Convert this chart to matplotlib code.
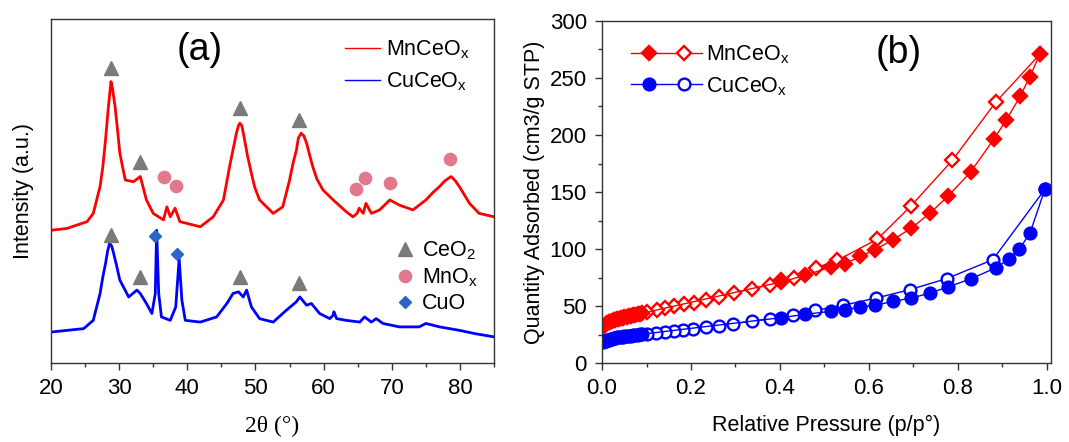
import numpy as np
import matplotlib
matplotlib.use('Agg')
import matplotlib.pyplot as plt
from matplotlib.lines import Line2D
from matplotlib.legend_handler import HandlerBase

plt.rcParams['font.family'] = ['Liberation Sans', 'DejaVu Sans']
plt.rcParams['mathtext.default'] = 'regular'

#%% XRD data (a.u.)
tt_mn = [20.0, 22.3, 25.3, 26.2, 27.2, 27.6, 28.0, 28.4, 28.8, 29.0, 29.4, 29.8, 30.1, 30.5, 30.9,
         32.1, 33.1, 34.0, 35.0, 36.5, 37.0, 37.5, 38.2, 38.9, 39.9, 41.9, 43.8, 45.3, 46.2,
         46.7, 47.2, 47.5, 47.7, 48.0, 48.4, 48.8, 49.4, 49.9, 50.6, 52.6, 54.0, 55.0, 55.5,
         56.0, 56.3, 56.7, 57.1, 57.5, 58.0, 58.4, 59.0, 59.9, 61.4, 63.3, 64.3, 64.9, 65.2,
         65.8, 66.2, 67.0, 68.2, 69.7, 71.1, 73.1, 75.0, 76.0, 77.0, 77.8, 78.7, 79.3, 79.9,
         81.4, 82.8, 85.0]
i_mn = [38.6, 39.1, 41.1, 43.5, 51.3, 57.0, 64.9, 74.0, 81.8, 80.0, 74.6, 67.0, 61.0, 57.0, 53.2,
        52.7, 54.2, 47.4, 43.5, 41.6, 45.4, 42.5, 45.0, 41.1, 40.6, 39.6, 42.5, 47.4, 57.1,
        62.0, 66.8, 69.0, 69.7, 69.0, 64.9, 60.5, 55.1, 51.0, 47.4, 43.5, 45.4, 53.2, 58.0,
        61.9, 65.5, 66.8, 66.0, 63.9, 60.0, 57.1, 53.5, 50.3, 47.4, 44.0, 42.5, 43.5, 45.0,
        43.5, 46.4, 43.5, 44.5, 47.4, 45.9, 44.5, 47.4, 49.5, 51.3, 53.0, 54.2, 53.0, 51.3,
        46.4, 43.5, 42.5]

tt_cu = [20.0, 24.8, 26.2, 27.2, 27.6, 28.0, 28.3, 28.6, 28.9, 29.2, 29.6, 30.1, 31.4, 32.6,
         33.1, 34.0, 34.8, 35.3, 35.5, 35.8, 36.2, 37.5, 38.3, 38.8, 39.2, 39.7, 41.9, 44.3,
         45.8, 46.7, 47.5, 48.2, 48.7, 49.4, 50.6, 52.6, 54.5, 56.0, 56.5, 57.5, 58.2, 59.4,
         60.9, 61.4, 61.5, 61.9, 63.3, 65.3, 66.0, 67.0, 67.7, 68.7, 71.1, 74.0, 75.0, 77.0,
         79.9, 82.3, 85.0]
i_cu = [9.0, 10.0, 12.4, 20.2, 25.0, 28.9, 32.5, 34.8, 34.0, 31.8, 28.5, 24.1, 19.2, 21.2,
        20.2, 17.3, 14.4, 20.2, 38.6, 20.2, 13.4, 12.4, 16.3, 30.4, 18.3, 12.4, 11.9, 13.4,
        17.3, 20.2, 20.7, 19.2, 21.2, 16.3, 12.9, 11.9, 15.3, 17.8, 19.2, 16.8, 17.3, 14.4,
        12.9, 13.9, 14.9, 12.9, 12.4, 11.9, 13.4, 11.9, 12.9, 11.5, 10.5, 10.5, 11.5, 10.5,
        9.5, 8.5, 7.6]

# phase markers
ceo2_tt = [28.8, 33.0, 47.7, 56.4, 28.8, 33.0, 47.7, 56.4]
ceo2_i  = [85.7, 58.3, 74.1, 70.5, 37.2, 24.9, 25.0, 23.3]
mnox_tt = [36.6, 38.4, 64.7, 66.0, 69.7, 78.6]
mnox_i  = [54.2, 51.5, 50.6, 53.7, 52.4, 59.2]
cuo_tt  = [35.3, 38.5]
cuo_i   = [37.0, 31.7]

#%% BET isotherms (p/p0, cm3/g STP)
mn_ads_p = [0.003, 0.006, 0.009, 0.012, 0.015, 0.018, 0.022, 0.026, 0.030, 0.034, 0.038, 0.042,
            0.046, 0.050, 0.055, 0.060, 0.065, 0.070, 0.075, 0.080, 0.085, 0.090,
            0.403, 0.457, 0.514, 0.547, 0.581, 0.614, 0.655, 0.696, 0.738, 0.778, 0.829,
            0.882, 0.909, 0.941, 0.962, 0.985]
mn_ads_q = [32.0, 33.3, 34.3, 35.1, 35.8, 36.4, 37.0, 37.6, 38.1, 38.6, 39.0, 39.4,
            39.8, 40.2, 40.7, 41.1, 41.5, 42.0, 42.4, 42.8, 43.2, 43.6,
            71.1, 76.9, 84.2, 87.1, 93.6, 99.4, 108.2, 118.4, 131.6, 146.2, 167.5,
            196.8, 212.9, 234.2, 250.9, 270.8]
mn_des_p = [0.985, 0.886, 0.788, 0.694, 0.619, 0.529, 0.482, 0.431, 0.403, 0.377, 0.337,
            0.297, 0.263, 0.234, 0.207, 0.184, 0.162, 0.141, 0.123, 0.100]
mn_des_q = [270.8, 229.0, 177.8, 137.4, 108.5, 90.1, 83.6, 74.9, 72.5, 68.7, 64.9,
            61.4, 57.9, 55.6, 52.9, 51.5, 49.7, 48.5, 46.8, 44.7]

cu_ads_p = [0.003, 0.006, 0.009, 0.012, 0.015, 0.018, 0.022, 0.026, 0.030, 0.034, 0.038, 0.042,
            0.046, 0.050, 0.055, 0.060, 0.065, 0.070, 0.075, 0.080, 0.085, 0.090,
            0.403, 0.457, 0.514, 0.547, 0.581, 0.614, 0.655, 0.696, 0.738, 0.778, 0.831,
            0.886, 0.916, 0.939, 0.963, 0.996]
cu_ads_q = [18.0, 19.0, 19.7, 20.2, 20.6, 21.0, 21.4, 21.8, 22.1, 22.4, 22.7, 22.9,
            23.1, 23.4, 23.6, 23.9, 24.1, 24.4, 24.6, 24.9, 25.1, 25.3,
            39.8, 42.7, 45.3, 46.8, 49.1, 50.6, 54.1, 57.0, 61.4, 66.7, 74.0,
            83.6, 91.5, 100.0, 114.3, 152.3]
cu_des_p = [0.996, 0.879, 0.775, 0.692, 0.617, 0.542, 0.480, 0.429, 0.377, 0.337, 0.295,
            0.263, 0.233, 0.205, 0.183, 0.162, 0.141, 0.121, 0.100]
cu_des_q = [152.3, 90.6, 74.0, 64.3, 57.0, 50.6, 46.2, 41.8, 38.9, 36.6, 34.5,
            32.5, 31.6, 29.5, 28.7, 28.1, 27.5, 26.6, 25.1]


class HandlerPair(HandlerBase):
    # line with a filled marker and an open marker on it
    def create_artists(self, legend, orig_handle, xdescent, ydescent, width, height, fontsize, trans):
        full, hollow = orig_handle
        y = height / 2 - ydescent
        x0 = -xdescent
        ln = Line2D([x0, x0 + width], [y, y], color=full.get_color(), lw=full.get_linewidth())
        m1 = Line2D([x0 + 0.25 * width], [y], ls='none', marker=full.get_marker(),
                    ms=full.get_markersize(), mfc=full.get_markerfacecolor(),
                    mec=full.get_markeredgecolor(), mew=full.get_markeredgewidth())
        m2 = Line2D([x0 + 0.75 * width], [y], ls='none', marker=hollow.get_marker(),
                    ms=hollow.get_markersize(), mfc='white',
                    mec=hollow.get_markeredgecolor(), mew=hollow.get_markeredgewidth())
        for a in (ln, m1, m2):
            a.set_transform(trans)
        return [ln, m1, m2]


fig = plt.figure(figsize=(10.69, 4.42), dpi=100)
ax1 = fig.add_axes([0.0477, 0.1787, 0.4145, 0.7783])
ax2 = fig.add_axes([0.5632, 0.1787, 0.4200, 0.7738])

spine_c = '#333333'
fs = 15.5
fs_tick = 16

#%% (a) XRD
l_mn, = ax1.plot(tt_mn, i_mn, color='#ff0000', lw=2.0, label=r'MnCeO$_x$')
l_cu, = ax1.plot(tt_cu, i_cu, color='#0000ff', lw=2.0, label=r'CuCeO$_x$')
p1, = ax1.plot(ceo2_tt, ceo2_i, ls='none', marker='^', ms=9.5, color='#7a7a7a', label=r'CeO$_2$', zorder=5)
p2, = ax1.plot(mnox_tt, mnox_i, ls='none', marker='o', ms=8.8, color='#e0788e', label=r'MnO$_x$', zorder=5)
p3, = ax1.plot(cuo_tt, cuo_i, ls='none', marker='D', ms=6.6, color='#2e64c8', label='CuO', zorder=5)

ax1.set_xlim(20, 85)
ax1.set_ylim(0, 100)
ax1.set_yticks([])
ax1.set_xticks(np.arange(20, 81, 10))
ax1.set_xticks(np.arange(25, 86, 10), minor=True)
ax1.tick_params(axis='x', which='major', direction='out', length=5, width=1, labelsize=fs_tick, pad=6, color=spine_c)
ax1.tick_params(axis='x', which='minor', direction='out', length=3, width=1, color=spine_c)
ax1.set_xlabel('2θ (°)', fontsize=17, family=['Liberation Serif', 'DejaVu Serif'], labelpad=12)
ax1.set_ylabel('Intensity (a.u.)', fontsize=fs, labelpad=12)
ax1.text(0.335, 0.91, '(a)', transform=ax1.transAxes, fontsize=27, ha='center', va='center')

leg1 = ax1.legend(handles=[l_mn, l_cu], loc='upper left', bbox_to_anchor=(0.64, 0.975), frameon=False,
                  fontsize=fs, handlelength=1.6, handletextpad=0.3, labelspacing=0.45, borderpad=0)
for h in leg1.get_lines():
    h.set_linewidth(1.0)
ax1.add_artist(leg1)
ax1.legend(handles=[p1, p2, p3], loc='upper left', bbox_to_anchor=(0.755, 0.39), frameon=False,
           fontsize=fs, handlelength=0.8, handletextpad=0.4, labelspacing=0.2, borderpad=0)

#%% (b) BET
mk = dict(mew=1.7)
d_mn, = ax2.plot(mn_des_p, mn_des_q, color='#ff0000', lw=1.0, marker='D', ms=7.2, mfc='white', mec='#ff0000', **mk)
a_mn, = ax2.plot(mn_ads_p, mn_ads_q, color='#ff0000', lw=1.0, marker='D', ms=7.2, mfc='#ff0000', mec='#ff0000', **mk)
d_cu, = ax2.plot(cu_des_p, cu_des_q, color='#0000ff', lw=1.0, marker='o', ms=8.5, mfc='white', mec='#0000ff', **mk)
a_cu, = ax2.plot(cu_ads_p, cu_ads_q, color='#0000ff', lw=1.0, marker='o', ms=8.5, mfc='#0000ff', mec='#0000ff', **mk)

ax2.set_xlim(0, 1.01)
ax2.set_ylim(0, 300)
ax2.set_xticks(np.arange(0, 1.01, 0.2))
ax2.set_xticks(np.arange(0.1, 1.0, 0.2), minor=True)
ax2.set_yticks(np.arange(0, 301, 50))
ax2.set_yticks(np.arange(25, 300, 50), minor=True)
ax2.xaxis.set_major_formatter(matplotlib.ticker.FormatStrFormatter('%.1f'))
ax2.tick_params(which='major', direction='out', length=5, width=1, labelsize=fs_tick, pad=6, color=spine_c)
ax2.tick_params(which='minor', direction='out', length=3, width=1, color=spine_c)
ax2.set_xlabel('Relative Pressure (p/p°)', fontsize=fs, labelpad=11)
ax2.set_ylabel('Quantity Adsorbed (cm3/g STP)', fontsize=fs, labelpad=3)
ax2.text(0.66, 0.905, '(b)', transform=ax2.transAxes, fontsize=27, ha='center', va='center')
ax2.legend(handles=[(a_mn, d_mn), (a_cu, d_cu)], labels=[r'MnCeO$_x$', r'CuCeO$_x$'],
           handler_map={tuple: HandlerPair()}, loc='upper left', bbox_to_anchor=(0.04, 0.965),
           frameon=False, fontsize=fs, handlelength=3.3, handletextpad=0.2, labelspacing=0.4, borderpad=0)

for ax in (ax1, ax2):
    for s in ax.spines.values():
        s.set_color(spine_c)
        s.set_linewidth(1.0)

fig.savefig('out.png', dpi=100)
